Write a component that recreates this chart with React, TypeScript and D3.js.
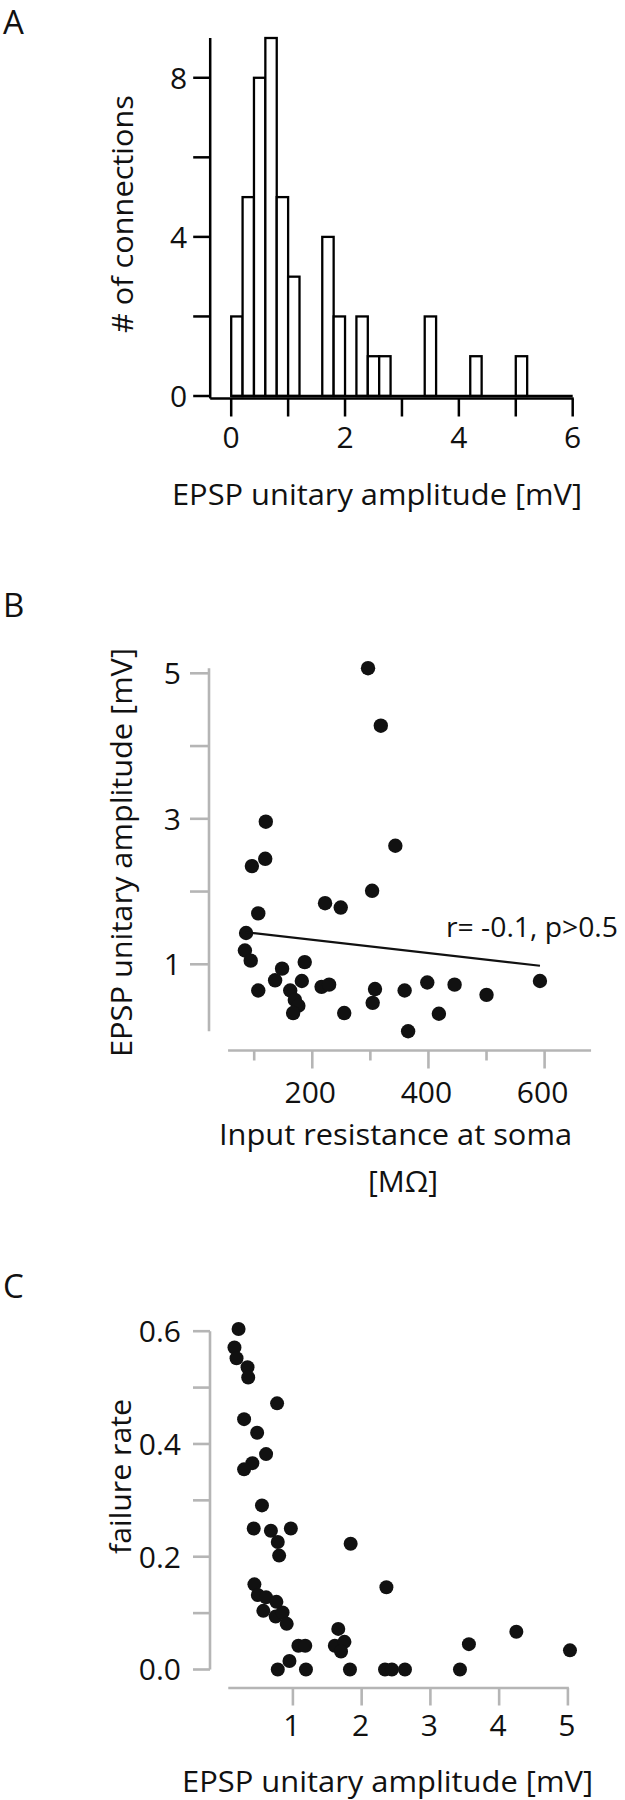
import React from "react";
import * as d3 from "d3";

// ---------- Panel A: histogram of EPSP unitary amplitude ----------
const ampBinWidth = 0.2;
const ampBinStart = [0, 0.2, 0.4, 0.6, 0.8, 1.0, 1.6, 1.8, 2.2, 2.4, 2.6, 3.4, 4.2, 5.0];
const ampCounts = [2, 5, 8, 9, 5, 3, 4, 2, 2, 1, 1, 2, 1, 1];
const aXTicks = [0, 1, 2, 3, 4, 5, 6];
const aXLabels = [0, 2, 4, 6];
const aYTicks = [0, 2, 4, 6, 8];
const aYLabels = [0, 4, 8];

// ---------- Panel B: input resistance vs EPSP amplitude ----------
const rinValues = [296, 318, 120, 343, 119, 96, 303, 222, 249, 107, 86, 84, 94, 107, 148, 136, 187, 182, 162, 170, 176, 167, 216, 229, 255, 308, 304, 359, 365, 398, 445, 500, 592, 418];
const epspValues = [5.07, 4.28, 2.96, 2.63, 2.45, 2.35, 2.01, 1.84, 1.78, 1.70, 1.43, 1.19, 1.05, 0.64, 0.94, 0.78, 1.03, 0.77, 0.64, 0.51, 0.43, 0.33, 0.69, 0.72, 0.33, 0.66, 0.47, 0.64, 0.08, 0.75, 0.72, 0.58, 0.77, 0.32];
const fitRin = [85.6, 592];
const fitEpsp = [1.44, 0.98];
const bXAxisRange = [55, 680];
const bYAxisRange = [0.08, 5.07];
const bXTicks = [100, 200, 300, 400, 500, 600];
const bXLabels = [200, 400, 600];
const bYTicks = [1, 2, 3, 4, 5];
const bYLabels = [1, 3, 5];
const bAnnotation = "r= -0.1, p>0.5";

// ---------- Panel C: EPSP amplitude vs failure rate ----------
const failAmp = [0.21, 0.15, 0.18, 0.34, 0.35, 0.77, 0.29, 0.48, 0.61, 0.41, 0.29, 0.55, 0.43, 0.68, 0.97, 0.78, 0.80, 1.84, 0.44, 0.49, 0.61, 0.57, 0.76, 0.75, 0.85, 0.91, 2.36, 1.66, 1.08, 1.18, 1.61, 1.75, 1.70, 0.95, 0.78, 1.19, 1.83, 2.34, 2.44, 2.63, 3.43, 3.56, 4.25, 5.03];
const failRate = [0.604, 0.571, 0.552, 0.536, 0.518, 0.472, 0.444, 0.42, 0.382, 0.366, 0.355, 0.291, 0.25, 0.246, 0.25, 0.226, 0.202, 0.223, 0.151, 0.132, 0.128, 0.104, 0.12, 0.094, 0.101, 0.081, 0.146, 0.072, 0.042, 0.042, 0.042, 0.049, 0.032, 0.015, 0, 0, 0, 0, 0, 0, 0, 0.045, 0.067, 0.034];
const cXAxisRange = [0.06, 5.0];
const cXTicks = [1, 2, 3, 4, 5];
const cYTicks = [0, 0.1, 0.2, 0.3, 0.4, 0.5, 0.6];
const cYLabels = [0, 0.2, 0.4, 0.6];

const FONT = "'Open Sans', 'Noto Sans', sans-serif";
const TXT = "#111";
const GRAY = "#b5b5b5";
const FS = 30;

export default function App() {
  // Scales
  const xA = d3.scaleLinear().domain([0, 6]).range([231.2, 572.7]);
  const yA = d3.scaleLinear().domain([0, 9]).range([396, 38]);
  const xB = d3.scaleLinear().domain([100, 600]).range([254.2, 544.6]);
  const yB = d3.scaleLinear().domain([1, 5]).range([964.3, 673.3]);
  const xC = d3.scaleLinear().domain([1, 5]).range([292.9, 567.9]);
  const yC = d3.scaleLinear().domain([0, 0.6]).range([1669.5, 1331.2]);

  const fitLine = d3
    .line<number>()
    .x((_, i) => xB(fitRin[i]))
    .y((d) => yB(d))(fitEpsp);

  const fmtC = d3.format(".1f");

  return (
    <svg
      width={625}
      height={1800}
      style={{ position: "absolute", left: 0, top: 0, background: "#fff" }}
      fontFamily={FONT}
    >
      <rect x={0} y={0} width={625} height={1800} fill="#fff" />

      {/* ================= Panel A ================= */}
      <text x={3} y={34} fontSize={33} fill={TXT}>A</text>
      {/* bars */}
      {ampBinStart.map((s, i) => (
        <rect
          key={"bar" + i}
          x={xA(s)}
          y={yA(ampCounts[i])}
          width={xA(s + ampBinWidth) - xA(s)}
          height={yA(0) - yA(ampCounts[i])}
          fill="#fff"
          stroke="#000"
          strokeWidth={2.3}
        />
      ))}
      {/* bar baseline */}
      <line x1={xA(0)} x2={xA(6)} y1={yA(0)} y2={yA(0)} stroke="#000" strokeWidth={2.3} />
      {/* y axis */}
      <line x1={xA(0) - 21} x2={xA(0) - 21} y1={yA(9)} y2={yA(0) + 2.5} stroke="#000" strokeWidth={2.5} />
      {aYTicks.map((t) => (
        <line key={"ayt" + t} x1={xA(0) - 38} x2={xA(0) - 21} y1={yA(t)} y2={yA(t)} stroke="#000" strokeWidth={2.5} />
      ))}
      {aYLabels.map((t) => (
        <text key={"ayl" + t} x={xA(0) - 44} y={yA(t)} dy="0.36em" textAnchor="end" fontSize={FS} fill={TXT}>
          {t}
        </text>
      ))}
      {/* x axis */}
      <line x1={xA(0) - 21} x2={xA(6) + 1} y1={yA(0) + 2.5} y2={yA(0) + 2.5} stroke="#000" strokeWidth={2.5} />
      {aXTicks.map((t) => (
        <line key={"axt" + t} x1={xA(t)} x2={xA(t)} y1={yA(0) + 2.5} y2={yA(0) + 20.5} stroke="#000" strokeWidth={2.5} />
      ))}
      {aXLabels.map((t) => (
        <text key={"axl" + t} x={xA(t)} y={448} textAnchor="middle" fontSize={FS} fill={TXT}>
          {t}
        </text>
      ))}
      <text x={172} y={505} fontSize={FS} fill={TXT} textLength={410} lengthAdjust="spacingAndGlyphs">
        EPSP unitary amplitude [mV]
      </text>
      <text
        transform="translate(133,333) rotate(-90)"
        fontSize={FS}
        fill={TXT}
        textLength={238}
        lengthAdjust="spacingAndGlyphs"
      >
        # of connections
      </text>

      {/* ================= Panel B ================= */}
      <text x={3} y={617} fontSize={33} fill={TXT}>B</text>
      {/* y axis */}
      <line x1={209} x2={209} y1={yB(bYAxisRange[1])} y2={yB(bYAxisRange[0])} stroke={GRAY} strokeWidth={2.6} />
      {bYTicks.map((t) => (
        <line key={"byt" + t} x1={190} x2={209} y1={yB(t)} y2={yB(t)} stroke={GRAY} strokeWidth={2.6} />
      ))}
      {bYLabels.map((t) => (
        <text key={"byl" + t} x={181} y={yB(t)} dy="0.36em" textAnchor="end" fontSize={FS} fill={TXT}>
          {t}
        </text>
      ))}
      {/* x axis */}
      <line x1={xB(bXAxisRange[0])} x2={xB(bXAxisRange[1])} y1={1050.5} y2={1050.5} stroke={GRAY} strokeWidth={2.6} />
      {bXTicks.map((t) => (
        <line
          key={"bxt" + t}
          x1={xB(t)}
          x2={xB(t)}
          y1={1050.5}
          y2={bXLabels.includes(t) ? 1068.5 : 1060.5}
          stroke={GRAY}
          strokeWidth={2.6}
        />
      ))}
      {bXLabels.map((t) => (
        <text key={"bxl" + t} x={xB(t) - 2} y={1103} textAnchor="middle" fontSize={FS} fill={TXT}>
          {t}
        </text>
      ))}
      {/* points */}
      {rinValues.map((r, i) => (
        <circle key={"bp" + i} cx={xB(r)} cy={yB(epspValues[i])} r={7.2} fill="#111" />
      ))}
      {/* regression line */}
      <path d={fitLine || ""} stroke="#111" strokeWidth={2.2} fill="none" />
      <text x={446} y={937} fontSize={28} fill={TXT} textLength={172} lengthAdjust="spacingAndGlyphs">
        {bAnnotation}
      </text>
      <text x={219} y={1145} fontSize={FS} fill={TXT} textLength={353} lengthAdjust="spacingAndGlyphs">
        Input resistance at soma
      </text>
      <text x={403} y={1192} textAnchor="middle" fontSize={FS} fill={TXT}>
        [MΩ]
      </text>
      <text
        transform="translate(132,1057) rotate(-90)"
        fontSize={FS}
        fill={TXT}
        textLength={409}
        lengthAdjust="spacingAndGlyphs"
      >
        EPSP unitary amplitude [mV]
      </text>

      {/* ================= Panel C ================= */}
      <text x={3} y={1298} fontSize={33} fill={TXT}>C</text>
      {/* y axis */}
      <line x1={210} x2={210} y1={yC(0.6)} y2={yC(0)} stroke={GRAY} strokeWidth={2.6} />
      {cYTicks.map((t) => (
        <line key={"cyt" + t} x1={193} x2={210} y1={yC(t)} y2={yC(t)} stroke={GRAY} strokeWidth={2.6} />
      ))}
      {cYLabels.map((t) => (
        <text key={"cyl" + t} x={181} y={yC(t)} dy="0.36em" textAnchor="end" fontSize={FS} fill={TXT}>
          {fmtC(t)}
        </text>
      ))}
      {/* x axis */}
      <line x1={xC(cXAxisRange[0])} x2={xC(cXAxisRange[1]) + 1} y1={1688} y2={1688} stroke={GRAY} strokeWidth={2.6} />
      {cXTicks.map((t) => (
        <line key={"cxt" + t} x1={xC(t)} x2={xC(t)} y1={1688} y2={1705.5} stroke={GRAY} strokeWidth={2.6} />
      ))}
      {cXTicks.map((t) => (
        <text key={"cxl" + t} x={xC(t) - 1} y={1736} textAnchor="middle" fontSize={FS} fill={TXT}>
          {t}
        </text>
      ))}
      {/* points */}
      {failAmp.map((a, i) => (
        <circle key={"cp" + i} cx={xC(a)} cy={yC(failRate[i])} r={7} fill="#111" />
      ))}
      <text x={182} y={1792} fontSize={FS} fill={TXT} textLength={411} lengthAdjust="spacingAndGlyphs">
        EPSP unitary amplitude [mV]
      </text>
      <text
        transform="translate(131,1554) rotate(-90)"
        fontSize={FS}
        fill={TXT}
        textLength={155}
        lengthAdjust="spacingAndGlyphs"
      >
        failure rate
      </text>
    </svg>
  );
}
